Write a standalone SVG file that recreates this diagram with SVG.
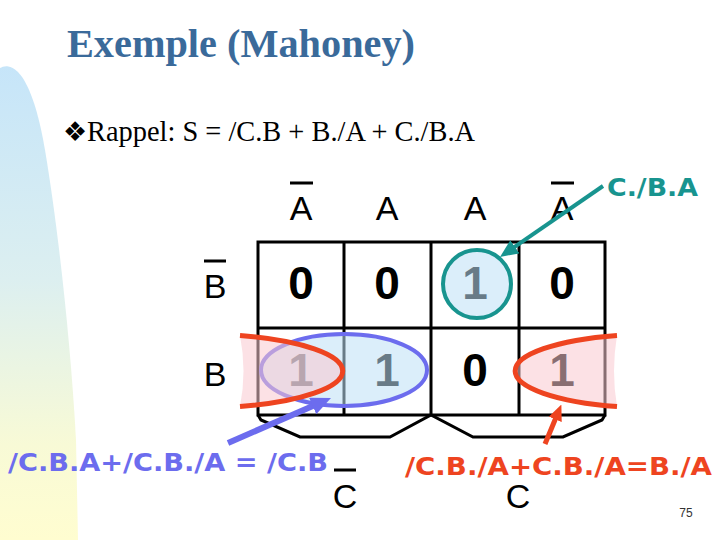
<svg xmlns="http://www.w3.org/2000/svg" width="720" height="540" viewBox="0 0 720 540">
  <defs>
    <linearGradient id="sideGrad" x1="0" y1="0" x2="0" y2="1">
      <stop offset="0" stop-color="#C6E5F9"/>
      <stop offset="0.45" stop-color="#DCEFF0"/>
      <stop offset="0.8" stop-color="#F8FAD6"/>
      <stop offset="1" stop-color="#FFFDD0"/>
    </linearGradient>
    <marker id="headTeal" viewBox="0 0 18 16" refX="2" refY="8" markerWidth="18" markerHeight="16" markerUnits="userSpaceOnUse" orient="auto">
      <path d="M0,0 L18,8 L0,16 Z" fill="#18948F"/>
    </marker>
    <marker id="headBlue" viewBox="0 0 20 18" refX="2" refY="9" markerWidth="20" markerHeight="18" markerUnits="userSpaceOnUse" orient="auto">
      <path d="M0,0 L20,9 L0,18 Z" fill="#6C6CEE"/>
    </marker>
    <marker id="headRed" viewBox="0 0 16 14" refX="2" refY="7" markerWidth="16" markerHeight="14" markerUnits="userSpaceOnUse" orient="auto">
      <path d="M0,0 L16,7 L0,14 Z" fill="#EE4420"/>
    </marker>
  </defs>
  <style>
    .title { font-family: "Liberation Serif", "Times New Roman", serif; font-weight: bold; font-size: 40px; fill: #3A6A9A; }
    .body { font-family: "Liberation Serif", "Times New Roman", serif; font-size: 29px; fill: #000; }
    .lbl { font-family: "Liberation Sans", Arial, sans-serif; font-size: 34px; fill: #000; text-anchor: middle; }
    .digit { font-family: "Liberation Sans", Arial, sans-serif; font-weight: bold; font-size: 46px; fill: #000; text-anchor: middle; }
    .note { font-family: "DejaVu Sans", Verdana, sans-serif; font-weight: bold; font-size: 25px; }
    .bar { stroke: #000; stroke-width: 3; }
    .grid { fill: none; stroke: #000; stroke-width: 3; }
    .pink { fill: #F9C9CF; fill-opacity: 0.55; stroke: none; }
    .redarc { fill: none; stroke: #EE4420; stroke-width: 5; }
  </style>

  <rect width="720" height="540" fill="#FFFFFF"/>
  <path d="M0,68 C8,63 30,62 45,150 C56,215 70,330 76,440 L78,540 L0,540 Z" fill="url(#sideGrad)"/>

  <text class="title" x="67" y="57" textLength="348" lengthAdjust="spacingAndGlyphs">Exemple (Mahoney)</text>
  <text x="63" y="141" font-family="DejaVu Sans, sans-serif" font-size="27" fill="#000">❖</text>
  <text class="body" x="87" y="141" textLength="388" lengthAdjust="spacingAndGlyphs">Rappel: S = /C.B + B./A + C./B.A</text>

  <g id="headers">
    <text class="lbl" x="301" y="220">A</text>
    <line class="bar" x1="290" y1="183" x2="313" y2="183"/>
    <text class="lbl" x="387" y="220">A</text>
    <text class="lbl" x="475" y="220">A</text>
    <text class="lbl" x="562" y="220">A</text>
    <line class="bar" x1="551" y1="183" x2="574" y2="183"/>
    <text class="lbl" x="215" y="298">B</text>
    <line class="bar" x1="204" y1="261" x2="226" y2="261"/>
    <text class="lbl" x="215" y="386">B</text>
    <text class="lbl" x="345" y="508">C</text>
    <line class="bar" x1="334" y1="470" x2="356" y2="470"/>
    <text class="lbl" x="518" y="508">C</text>
  </g>

  <g id="kmap">
    <rect class="grid" x="258" y="242" width="347" height="173"/>
    <line class="grid" x1="344" y1="242" x2="344" y2="415"/>
    <line class="grid" x1="431" y1="242" x2="431" y2="415"/>
    <line class="grid" x1="519" y1="242" x2="519" y2="415"/>
    <line class="grid" x1="258" y1="328" x2="605" y2="328"/>
    <polyline class="grid" points="258,415 261,420 300,437 390,437 431,415 473,437 563,437 602,420 605,415"/>
    <text class="digit" x="301" y="299">0</text>
    <text class="digit" x="387" y="299">0</text>
    <text class="digit" x="475" y="299">1</text>
    <text class="digit" x="562" y="299">0</text>
    <text class="digit" x="301" y="386">1</text>
    <text class="digit" x="387" y="386">1</text>
    <text class="digit" x="475" y="386">0</text>
    <text class="digit" x="562" y="386">1</text>
  </g>

  <g id="group-blue">
    <ellipse cx="344" cy="370" rx="83" ry="36" fill="#BEE0F5" fill-opacity="0.55" stroke="#6C6CEE" stroke-width="4"/>
  </g>
  <g id="group-teal">
    <circle cx="477" cy="284" r="34" fill="#BEE0F5" fill-opacity="0.55" stroke="#18948F" stroke-width="4"/>
  </g>
  <g id="group-red">
    <path class="pink" d="M240,335.5 A143,37 0 0 1 240,406.5 Q247,371 240,335.5 Z"/>
    <path class="pink" d="M617,335.4 A140,37 0 0 0 617,406.6 Q611,371 617,335.4 Z"/>
    <path class="redarc" d="M240,335.5 A143,37 0 0 1 240,406.5"/>
    <path class="redarc" d="M617,335.4 A140,37 0 0 0 617,406.6"/>
  </g>

  <g id="connectors">
    <line x1="603" y1="186" x2="513.2" y2="247.9" stroke="#18948F" stroke-width="4" marker-end="url(#headTeal)"/>
    <line x1="228" y1="443" x2="314.5" y2="405.2" stroke="#6C6CEE" stroke-width="6" marker-end="url(#headBlue)"/>
    <line x1="545" y1="444" x2="556" y2="417.5" stroke="#EE4420" stroke-width="5" marker-end="url(#headRed)"/>
  </g>

  <g id="labels">
    <text class="note" x="607" y="196" fill="#18948F" font-size="23" textLength="91" lengthAdjust="spacingAndGlyphs">C./B.A</text>
    <text class="note" x="8" y="471" fill="#6C6CEE" textLength="320" lengthAdjust="spacingAndGlyphs">/C.B.A+/C.B./A = /C.B</text>
    <text class="note" x="405" y="475" fill="#EE4420" font-size="26" textLength="307" lengthAdjust="spacingAndGlyphs">/C.B./A+C.B./A=B./A</text>
  </g>

  <text x="686" y="517" font-family="Liberation Sans, Arial, sans-serif" font-size="12" fill="#333" text-anchor="middle">75</text>
</svg>
